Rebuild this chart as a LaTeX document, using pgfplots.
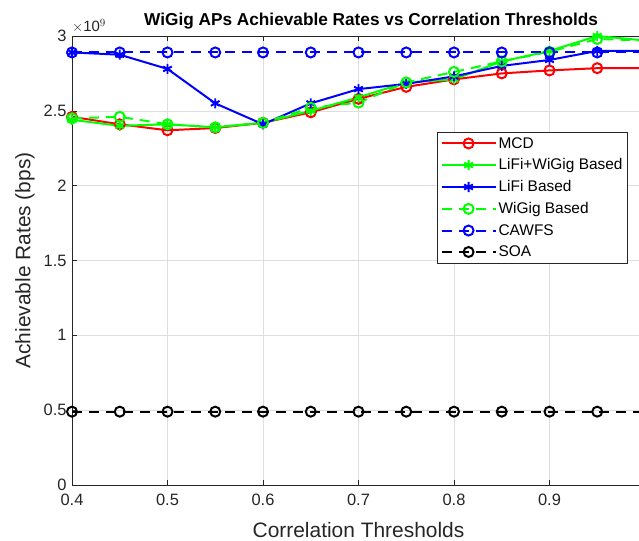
\documentclass[border=0pt]{standalone}
\usepackage{fontspec}
\setmainfont{Liberation Sans}
\usepackage{pgfplots}
\pgfplotsset{compat=1.18}

\definecolor{axgray}{gray}{0.15}
\definecolor{gridgray}{gray}{0.87}

\begin{document}
\begin{tikzpicture}
\useasboundingbox (0,0) rectangle (639bp,541bp);
\clip (0,0) rectangle (639bp,541bp);
\begin{axis}[
    at={(72bp,56bp)}, anchor=south west,
    scale only axis,
    width=573bp, height=449bp,
    clip=false,
    xmin=0.4, xmax=1.0,
    ymin=0, ymax=3,
    xtick={0.4,0.5,0.6,0.7,0.8,0.9,1.0},
    xticklabels={0.4,0.5,0.6,0.7,0.8,0.9,1},
    ytick={0,0.5,1,1.5,2,2.5,3},
    yticklabels={0,0.5,1,1.5,2,2.5,3},
    scaled y ticks=false,
    /pgf/number format/assume math mode=true,
    tick align=inside,
    major tick length=5bp,
    axis line style={axgray, line width=0.5pt},
    every tick/.style={axgray, line width=0.5pt},
    tick label style={font=\fontsize{16.5}{19}\selectfont, text=axgray},
    xticklabel style={yshift=-6bp},
    yticklabel style={xshift=-2bp},
    grid=major,
    grid style={gridgray, line width=0.5pt},
    title={\bfseries WiGig APs Achievable Rates vs Correlation Thresholds},
    title style={font=\fontsize{17.3}{20}\selectfont, at={(axis description cs:0.522,1)}, anchor=south, yshift=-3bp},
    xlabel={Correlation Thresholds},
    ylabel={Achievable Rates (bps)},
    xlabel style={font=\fontsize{21}{24}\selectfont, text=axgray, at={(axis description cs:0.5,-0.100)}, anchor=center},
    ylabel style={font=\fontsize{21}{24}\selectfont, text=axgray, at={(axis description cs:-0.082,0.5)}, anchor=center},
    legend style={
        at={(0.970,0.786)}, anchor=north east,
        font=\fontsize{15.5}{18}\selectfont,
        draw=axgray, line width=0.5pt,
        cells={anchor=west},
        row sep=5.2bp,
        inner sep=3bp,
    },
    legend image code/.code={
        \draw[mark repeat=2, mark phase=2] plot coordinates {(0bp,0bp) (27bp,0bp) (54bp,0bp)};
    },
]
% MCD
\addplot[red, line width=2pt, mark=o, mark size=5bp, mark options={solid}] coordinates {
    (0.40,2.46) (0.45,2.41) (0.50,2.37) (0.55,2.385) (0.60,2.42) (0.65,2.49) (0.70,2.58)
    (0.75,2.66) (0.80,2.71) (0.85,2.75) (0.90,2.77) (0.95,2.785) (1.00,2.785)
};
\addlegendentry{MCD}
% LiFi+WiGig Based
\addplot[green, line width=2pt, mark=asterisk, mark size=5bp, mark options={solid}] coordinates {
    (0.40,2.44) (0.45,2.40) (0.50,2.41) (0.55,2.39) (0.60,2.42) (0.65,2.50) (0.70,2.59)
    (0.75,2.69) (0.80,2.71) (0.85,2.83) (0.90,2.90) (0.95,3.00) (1.00,2.97)
};
\addlegendentry{LiFi+WiGig Based}
% LiFi Based
\addplot[blue, line width=2pt, mark=asterisk, mark size=5bp, mark options={solid}] coordinates {
    (0.40,2.89) (0.45,2.875) (0.50,2.78) (0.55,2.55) (0.60,2.41) (0.65,2.55) (0.70,2.645)
    (0.75,2.68) (0.80,2.73) (0.85,2.80) (0.90,2.84) (0.95,2.90) (1.00,2.90)
};
\addlegendentry{LiFi Based}
% WiGig Based
\addplot[green, line width=2pt, dash pattern=on 10bp off 7bp, mark=o, mark size=5bp, mark options={solid}] coordinates {
    (0.40,2.45) (0.45,2.46) (0.50,2.41) (0.55,2.39) (0.60,2.42) (0.65,2.52) (0.70,2.555)
    (0.75,2.69) (0.80,2.76) (0.85,2.83) (0.90,2.895) (0.95,2.98) (1.00,2.97)
};
\addlegendentry{WiGig Based}
% CAWFS
\addplot[blue, line width=2pt, dash pattern=on 10bp off 7bp, mark=o, mark size=5bp, mark options={solid}] coordinates {
    (0.40,2.89) (0.45,2.89) (0.50,2.89) (0.55,2.89) (0.60,2.89) (0.65,2.89) (0.70,2.89)
    (0.75,2.89) (0.80,2.89) (0.85,2.89) (0.90,2.89) (0.95,2.89) (1.00,2.89)
};
\addlegendentry{CAWFS}
% SOA
\addplot[black, line width=2pt, dash pattern=on 10bp off 7bp, mark=o, mark size=5bp, mark options={solid}] coordinates {
    (0.40,0.49) (0.45,0.49) (0.50,0.49) (0.55,0.49) (0.60,0.49) (0.65,0.49) (0.70,0.49)
    (0.75,0.49) (0.80,0.49) (0.85,0.49) (0.90,0.49) (0.95,0.49) (1.00,0.49)
};
\addlegendentry{SOA}
\node[anchor=base west, inner sep=0pt, text=axgray, font=\fontsize{15}{17}\selectfont]
    at (rel axis cs:0,1) [yshift=4bp] {$\times$10$^{9}$};
\end{axis}
\end{tikzpicture}
\end{document}
